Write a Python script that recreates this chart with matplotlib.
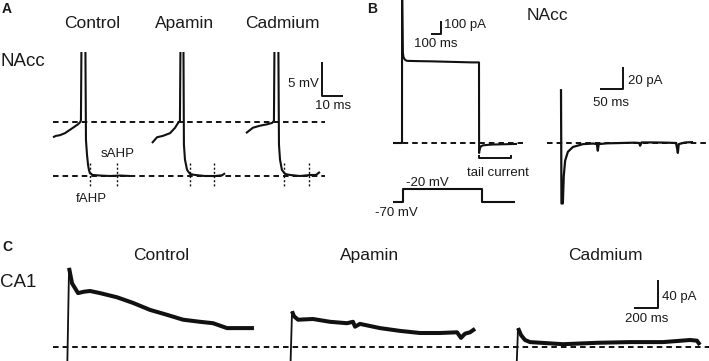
import matplotlib
matplotlib.use("Agg")
import matplotlib.pyplot as plt

plt.rcParams['font.family'] = ['Liberation Sans', 'DejaVu Sans']
plt.rcParams['lines.scale_dashes'] = False
plt.rcParams['lines.solid_capstyle'] = 'butt'

W, H = 709, 361

# ---------------- data ----------------
# Panel A: NAcc action potentials (time ms, Vm in mV relative to AHP level)
conditions = ["Control", "Apamin", "Cadmium"]
a_ctrl_t = [0, 1.4, 3.3, 5.7, 8.1, 10.0, 11.9, 12.9, 13.3, 13.8, 15.2, 15.7, 16.2, 16.7, 17.1, 17.6, 19.0, 22.4, 27.1, 31.9, 36.7]
a_ctrl_v = [5.7, 5.9, 6.0, 6.3, 6.8, 7.2, 7.6, 7.9, 8.2, 30, 30, 5.3, 3.1, 1.6, 0.9, 0.4, 0.15, 0.07, 0.0, 0.07, 0.0]
a_apa_t = [0, 2.4, 5.2, 8.6, 11.0, 12.4, 13.3, 13.8, 14.8, 15.2, 15.7, 16.7, 18.1, 20.5, 25.2, 30.0, 33.3, 34.8]
a_apa_v = [4.85, 5.7, 5.9, 6.3, 7.1, 7.8, 8.1, 30, 30, 4.6, 2.4, 0.9, 0.3, 0.15, 0.0, 0.0, 0.1, 0.4]
a_cd_t = [0, 3.3, 6.7, 10.0, 12.4, 13.3, 13.8, 15.2, 15.7, 16.2, 17.1, 18.6, 21.0, 25.7, 30.5, 33.3, 35.2]
a_cd_v = [6.3, 7.1, 7.4, 7.6, 7.8, 8.1, 30, 30, 4.6, 2.4, 0.9, 0.3, 0.15, 0.0, 0.15, 0.15, 0.6]
a_levels = [7.9, 0.0]          # threshold and AHP reference levels (mV)
fahp_t = [17.6, 18.1, 18.1]    # fAHP measurement time (ms)
sahp_t = [30.5, 29.5, 30.0]    # sAHP measurement time (ms)

# Panel B: NAcc current evoked by -70 -> -20 mV step (time ms, current pA)
b_t = [-90, 0, 1, 8, 15, 30, 50, 150, 300, 450, 600, 700, 770, 771, 773, 780, 790, 810, 850, 900, 1000, 1100, 1150]
b_i = [0, 0, 1200, 700, 660, 640, 632, 630, 628, 625, 622, 620, 620, -77, -60, -40, -25, -18, -15, -12, -10, -8, -7]
v_t = [-90, 10, 10, 800, 800, 1130]
v_mv = [-70, -70, -20, -20, -70, -70]
tail_t = [770, 1090]
# tail current expanded
tail_ms = [0, 1, 4, 6, 9, 15, 26, 48, 70, 78, 80, 82, 100, 130, 160, 170, 172, 175, 200, 230, 250, 252, 254, 256, 270, 287]
tail_pa = [49, -55, -55, -30, -16, -8, -3.6, -1, -0.5, -1, -7, -1, -0.3, 0, 0.3, 0, -2.5, 0.5, 0.5, 0.3, 0, -4, -9, -1, 0.5, 0.8]

# Panel C: CA1 sAHP currents (time ms, current pA)
c_ctrl_t = [0, 17, 42, 92, 142, 192, 275, 417, 550, 692, 833, 967, 1108, 1217, 1333, 1442, 1558]
c_ctrl_i = [-50, 113, 91, 77, 79, 80, 77, 71, 63, 53, 46, 39, 36, 34, 27, 27, 27]
c_apa_t = [0, 17, 33, 67, 192, 333, 475, 525, 542, 583, 750, 917, 1083, 1250, 1392, 1425, 1458, 1500, 1542]
c_apa_i = [-50, 51, 44, 39, 40, 36, 34, 36, 29, 33, 27, 23, 20, 20, 21, 13, 19, 21, 26]
c_cd_t = [0, 17, 42, 75, 117, 392, 675, 950, 1225, 1450, 1508, 1533]
c_cd_i = [-50, 27, 17, 10, 7, 4, 6, 7, 7, 10, 9, 3]

# ---------------- layout ----------------
fig = plt.figure(figsize=(W / 100, H / 100), dpi=100)

def unit_ax(x0, y0, sx, sy, top=0, bottom=H, left=0, right=W):
    """Axes whose data units map to pixels: origin at (x0, y0) px, sx px/unit, sy px/unit."""
    ax = fig.add_axes([left / W, 1 - bottom / H, (right - left) / W, (bottom - top) / H])
    ax.set_xlim((left - x0) / sx, (right - x0) / sx)
    ax.set_ylim((y0 - bottom) / sy, (y0 - top) / sy)
    ax.set_axis_off()
    return ax

def txt(x, y, s, size=9.5, ha='left', weight='normal'):
    fig.text(x / W, 1 - y / H, s, fontsize=size, ha=ha, va='baseline', weight=weight, color='#1a1a1a')

K = '#111111'
DASH = (0, (4.0, 2.9))

# ---- Panel A ----
a_sx, a_sy, a_y0 = 2.1, 6.8, 176
a_starts = [53, 152, 246]
a_data = [(a_ctrl_t, a_ctrl_v), (a_apa_t, a_apa_v), (a_cd_t, a_cd_v)]
a_axes = []
for i, (t, v) in enumerate(a_data):
    ax = unit_ax(a_starts[i], a_y0, a_sx, a_sy, top=52)
    ax.plot(t, v, color=K, lw=1.5)
    for tt in (fahp_t[i], sahp_t[i]):
        ax.plot([tt, tt], [1.9, -1.5], color=K, lw=1.0, linestyle=(0, (1.5, 1.5)))
    a_axes.append(ax)
axA = a_axes[0]
for lev in a_levels:
    axA.plot([0, 129.5], [lev, lev], color=K, lw=1.4, linestyle=DASH)
# scale bar 5 mV / 10 ms
axA.plot([128.1, 128.1, 138.1], [16.76, 11.76, 11.76], color=K, lw=1.4)

txt(2, 13, "A", size=10, weight='bold')
txt(1, 66.5, "NAcc", size=13.5)
for name, xc in zip(conditions, [92, 184.5, 282]):
    txt(xc, 28.3, name, size=12.5, ha='center')
txt(319, 87, "5 mV", ha='right')
txt(333.5, 109, "10 ms", ha='center')
txt(118, 157, "sAHP", ha='center')
txt(91, 202, "fAHP", ha='center')

# ---- Panel B ----
b_sx, b_sy = 0.1, 0.13
axB = unit_ax(402, 143, b_sx, b_sy)
axB.plot(b_t, b_i, color=K, lw=1.5)
axB.plot([-90, 1210], [0, 0], color=K, lw=1.4, linestyle=DASH)
axB.plot([390, 390, 290], [938, 838, 838], color=K, lw=1.4)
axB.plot([tail_t[0], tail_t[0], tail_t[1], tail_t[1]], [-92, -115, -115, -92], color=K, lw=1.4)
axV = unit_ax(402, 202, b_sx, 0.26)
axV.plot(v_t, [m + 70 for m in v_mv], color=K, lw=1.5)

axT = unit_ax(561, 143, 0.46, 1.1)
axT.plot(tail_ms, tail_pa, color=K, lw=1.6)
axT.plot([-30, 322], [0, 0], color=K, lw=1.4, linestyle=DASH)
axT.plot([135, 135, 85], [69, 49, 49], color=K, lw=1.4)

txt(367, 13, "B", size=10, weight='bold')
txt(547, 20, "NAcc", size=12.5, ha='center')
txt(444, 28, "100 pA")
txt(436, 47, "100 ms", ha='center')
txt(498, 176, "tail current", ha='center')
txt(427, 186, "-20 mV", ha='center')
txt(396, 216, "-70 mV", ha='center')
txt(628, 84, "20 pA")
txt(611, 106, "50 ms", ha='center')

# ---- Panel C ----
c_sx, c_sy, c_y0 = 0.12, 0.7, 347
c_starts = [67, 290, 516]
c_data = [(c_ctrl_t, c_ctrl_i), (c_apa_t, c_apa_i), (c_cd_t, c_cd_i)]
c_axes = []
for i, (t, v) in enumerate(c_data):
    ax = unit_ax(c_starts[i], c_y0, c_sx, c_sy)
    ax.plot(t[:2], v[:2], color=K, lw=1.3)
    ax.plot(t[1:], v[1:], color=K, lw=2.9, solid_joinstyle='round')
    c_axes.append(ax)
c_axes[0].plot([-117, 5350], [0, 0], color=K, lw=1.4, linestyle=DASH)
c_axes[2].plot([1183, 1183, 983], [96, 56, 56], color=K, lw=1.4)

txt(2, 251, "C", size=10, weight='bold')
txt(0, 287, "CA1", size=13.5)
for name, xc in zip(conditions, [161, 369.5, 605.5]):
    txt(xc, 260, name, size=12.5, ha='center')
txt(662, 300, "40 pA")
txt(646.5, 322, "200 ms", ha='center')

fig.savefig("out.png", dpi=100)
